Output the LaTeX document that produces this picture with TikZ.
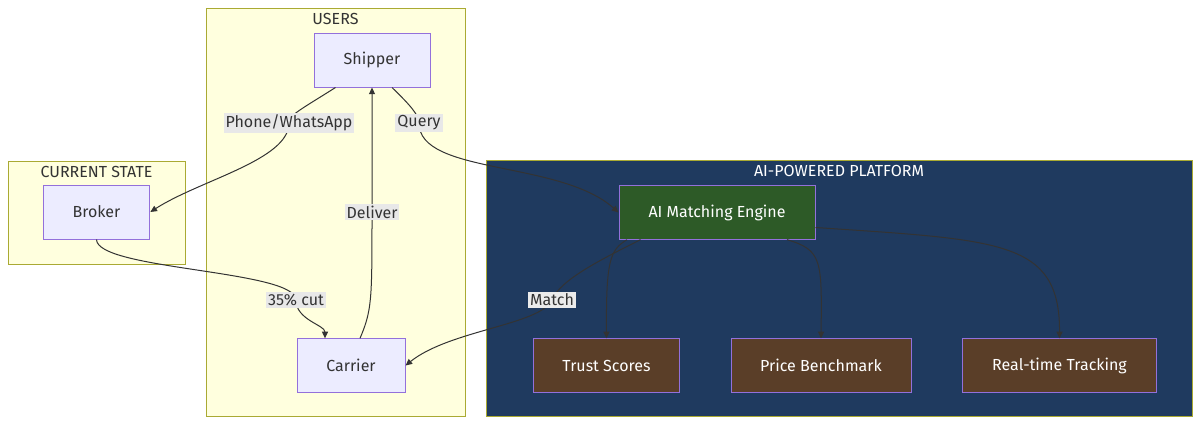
\documentclass[tikz,border=0pt]{standalone}
\usepackage{fontspec}
\setmainfont{Fira Sans}
\usetikzlibrary{arrows.meta,positioning}
\definecolor{userbg}{HTML}{FFFFDE}
\definecolor{userln}{HTML}{AAAA33}
\definecolor{nodebg}{HTML}{ECECFF}
\definecolor{nodeln}{HTML}{9370DB}
\definecolor{aibg}{HTML}{1F3A5F}
\definecolor{engbg}{HTML}{2D5A27}
\definecolor{featbg}{HTML}{5A3E28}
\definecolor{lblbg}{HTML}{E8E8E8}
\definecolor{ink}{HTML}{333333}
\tikzset{%
   cluster/.style={draw=userln, fill=userbg, line width=0.75pt},
   box/.style={draw=nodeln, fill=nodebg, line width=0.75pt, text=ink, font=\fontsize{12}{14}\selectfont},
   feat/.style={box, fill=featbg, text=white},
   lbl/.style={fill=lblbg, text=ink, inner sep=1.5pt, font=\fontsize{12}{14}\selectfont},
   title/.style={text=ink, font=\fontsize{12}{14}\selectfont, anchor=north},
   flow/.style={draw=ink, line width=0.75pt, -{Triangle[length=5pt,width=4.5pt]}},
}
\begin{document}
\begin{tikzpicture}[x=0.75pt, y=-0.75pt]
      \useasboundingbox (0,0) rectangle (1200,426);
      % clusters
      \draw[cluster] (206,8) rectangle (465,416);
      \node[title] (tusers) at (335.5,9) {USERS};
      \draw[cluster] (8,161) rectangle (185,264);
      \node[title] (tcur) at (96.5,162) {CURRENT STATE};
      \draw[fill=aibg, draw=userln, line width=0.75pt] (486,160) rectangle (1192,416);
      \node[title, text=white] (tai) at (839,161) {AI-POWERED PLATFORM};
      % nodes
      \node[box, minimum width=87pt, minimum height=40.5pt] (shipper) at (372,60) {Shipper};
      \node[box, minimum width=80pt, minimum height=40.5pt] (broker) at (96.5,212) {Broker};
      \node[box, minimum width=81pt, minimum height=40pt] (carrier) at (351,365.5) {Carrier};
      \node[box, fill=engbg, text=white, minimum width=147pt, minimum height=40pt] (engine) at (717,212.5) {AI Matching Engine};
      \node[feat, minimum width=110pt, minimum height=40pt] (trust) at (606.5,365.5) {Trust Scores};
      \node[feat, minimum width=135pt, minimum height=40pt] (price) at (821,365.5) {Price Benchmark};
      \node[feat, minimum width=145pt, minimum height=40pt] (track) at (1059.5,365.5) {Real-time Tracking};
      % edges
      \draw[flow] (shipper.south west) ++(22,0) .. controls (300,110) and (289,115) .. (289,123)
         .. controls (289,160) and (200,180) .. (broker.east);
      \draw[flow] (shipper.south) ++(20,0) .. controls (410,105) and (419,115) .. (419,123)
         .. controls (419,175) and (560,160) .. (engine.west);
      \draw[flow] (broker.south) .. controls (97,270) and (296,270) .. (296,300)
         .. controls (296,320) and (325,325) .. (carrier.north -| 325,0);
      \draw[flow] (carrier.north) ++(9,0) .. controls (372,310) and (372,300) .. (372,212) -- (shipper.south);
      \draw[flow] (engine.south west) ++(22,0) .. controls (600,260) and (560,280) .. (552,300)
         .. controls (540,325) and (450,330) .. (carrier.east);
      \draw[flow] (engine.south) ++(-90,0) .. controls (610,250) and (606,260) .. (trust.north);
      \draw[flow] (engine.south) ++(70,0) .. controls (822,250) and (822,260) .. (price.north);
      \draw[flow] (engine.east) ++(0,15) .. controls (1000,240) and (1060,240) .. (track.north);
      % labels
      \node[lbl] (lphone) at (289,123) {Phone/WhatsApp};
      \node[lbl] (lquery) at (419,123) {Query};
      \node[lbl] (lcut) at (296,300) {35\% cut};
      \node[lbl] (ldeliver) at (372,212) {Deliver};
      \node[lbl, fill=lblbg!85!white] (lmatch) at (552,300) {Match};
\end{tikzpicture}
\end{document}
